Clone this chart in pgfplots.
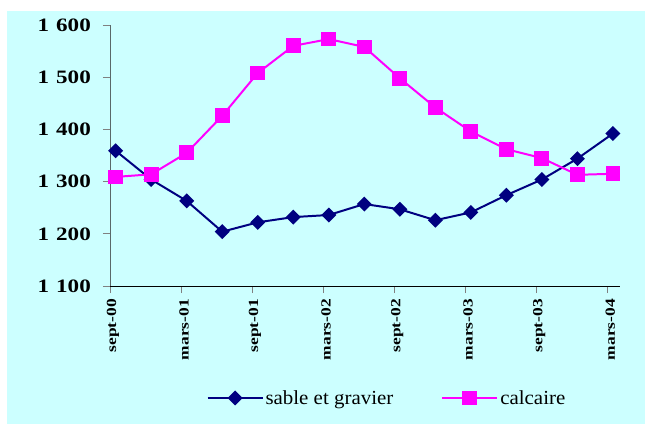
\documentclass[border=0pt]{standalone}
\usepackage{pgfplots}
\pgfplotsset{compat=1.18}
\usepackage{fontspec}
\setmainfont{Liberation Serif}
\definecolor{bgcyan}{HTML}{CCFFFF}
\definecolor{navyline}{HTML}{000080}
\definecolor{magline}{HTML}{FF00FF}
\definecolor{yaxgray}{HTML}{5A6868}
\newcommand{\xl}[1]{\scalebox{1.25}[1]{#1}}
\newcommand{\yl}[1]{\scalebox{1.22}[1]{1\hspace{0.3em}#1}}
\begin{document}
\begin{tikzpicture}
\fill[white] (0,0) rectangle (645bp,-424bp);
\fill[bgcyan] (7bp,-11bp) rectangle (645bp,-424bp);
\begin{axis}[
  at={(110bp,-286bp)}, anchor=south west,
  scale only axis, width=510bp, height=261bp,
  xmin=-0.16, xmax=14.2, ymin=1100, ymax=1600,
  axis x line=bottom, axis y line=left,
  axis line style={-, line width=0.8pt},
  x axis line style={black},
  y axis line style={yaxgray},
  tick align=outside, major tick length=7bp,
  tick style={line width=0.8pt},
  xtick={-0.16,1.84,3.84,5.84,7.84,9.84,11.84,13.84},
  xticklabels={\xl{sept-00},\xl{mars-01},\xl{sept-01},\xl{mars-02},
    \xl{sept-02},\xl{mars-03},\xl{sept-03},\xl{mars-04}},
  xticklabel style={rotate=90, anchor=east, inner sep=0pt, xshift=-6bp, yshift=-3bp,
    font=\fontsize{14}{14}\selectfont\bfseries},
  ytick={1100,1200,1300,1400,1500,1600},
  yticklabels={\yl{100},\yl{200},\yl{300},\yl{400},\yl{500},\yl{600}},
  yticklabel style={anchor=east, inner sep=0pt, xshift=-12bp,
    font=\fontsize{19}{19}\selectfont\bfseries},
  legend columns=2,
  legend cell align=left,
  legend style={draw=none, fill=none, at={(0.543,-0.429)}, anchor=center,
    font=\fontsize{20}{20}\selectfont,
    /tikz/every even column/.append style={column sep=46bp}},
  legend image code/.code={%
    \draw[mark repeat=2,mark phase=2,#1] plot coordinates {(0bp,0bp) (27.5bp,0bp) (55bp,0bp)};},
]
\addplot[navyline, line width=2pt, mark=square*, mark size=4.3bp,
  mark options={rotate=45, fill=navyline, solid}] coordinates {
  (0,1359) (1,1304) (2,1263) (3,1204) (4,1222) (5,1232) (6,1236) (7,1257)
  (8,1247) (9,1226) (10,1241) (11,1274) (12,1304) (13,1344) (14,1392)
};
\addlegendentry{\scalebox{1.05}[1]{sable et gravier}}
\addplot[magline, line width=2pt, mark=square*, mark size=6.4bp,
  mark options={fill=magline, solid}] coordinates {
  (0,1309) (1,1314) (2,1355) (3,1426) (4,1508) (5,1560) (6,1573) (7,1558)
  (8,1498) (9,1442) (10,1396) (11,1362) (12,1345) (13,1313) (14,1315)
};
\addlegendentry{\scalebox{1.05}[1]{calcaire}}
\end{axis}
\pgfresetboundingbox
\useasboundingbox (0,0) rectangle (645bp,-424bp);
\end{tikzpicture}
\end{document}
